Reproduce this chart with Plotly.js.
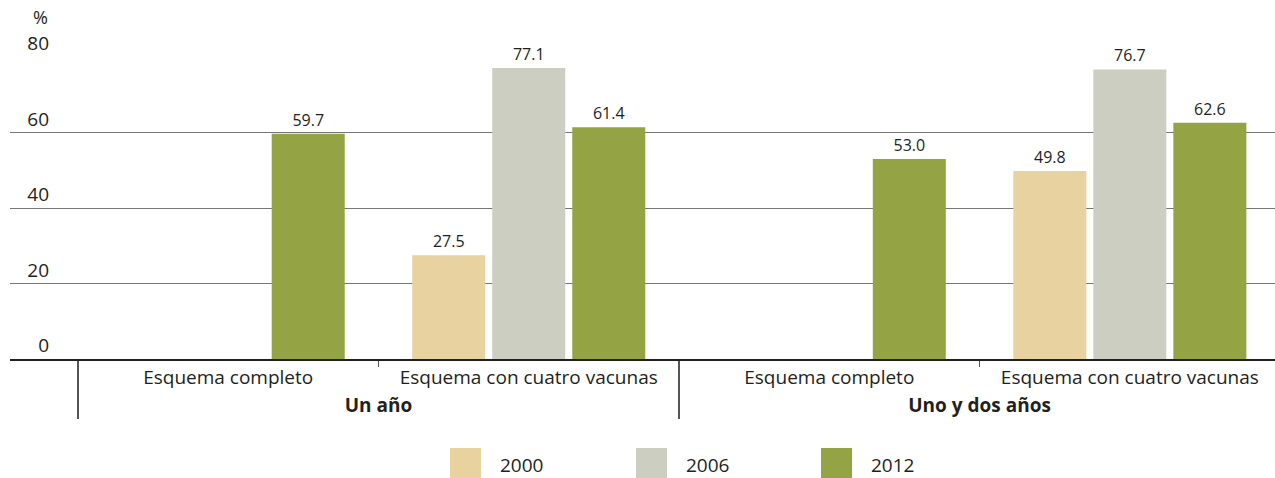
<!DOCTYPE html>
<html>
<head>
<meta charset="utf-8">
<script src="https://cdn.plot.ly/plotly-3.0.1.min.js"></script>
<style>html,body{margin:0;padding:0;background:#fff;}#chart{width:1275px;height:478px;}</style>
</head>
<body>
<div id="chart"></div>
<script>
const groups = ["<b>Un año</b>", "<b>Un año</b>", "<b>Uno y dos años</b>", "<b>Uno y dos años</b>"];
const schemes = ["Esquema completo", "Esquema con cuatro vacunas", "Esquema completo", "Esquema con cuatro vacunas"];
const years = ["2000", "2006", "2012"];
const v2000 = [null, 27.5, null, 49.8];
const v2006 = [null, 77.1, null, 76.7];
const v2012 = [59.7, 61.4, 53.0, 62.6];
const colors = ["#e8d29f", "#cccec1", "#94a444"];
const yTicks = [0, 20, 40, 60, 80];

const FONT = "Open Sans, Noto Sans, sans-serif";
const TXT = "#231f20";
const series = [v2000, v2006, v2012];
const traces = series.map((vals, i) => ({
  type: "bar",
  name: years[i],
  x: [groups, schemes],
  y: vals,
  marker: {color: colors[i]},
  text: vals.map(v => v === null ? "" : v.toFixed(1)),
  textposition: "outside",
  cliponaxis: false,
  textfont: {family: FONT, size: 16, color: TXT},
  hoverinfo: "none",
  showlegend: false
}));

// legend built from shapes + annotations
const legX = [450, 636, 821];
const shapes = [];
const annotations = [{
  xref: "paper", yref: "paper", x: 0, y: 1, xshift: 30, yshift: 40,
  text: "%", showarrow: false, font: {family: FONT, size: 18, color: TXT}, xanchor: "center", yanchor: "middle"
}];
years.forEach((yr, i) => {
  shapes.push({type: "rect", xref: "paper", yref: "paper",
    x0: (legX[i] - 10) / 1265, x1: (legX[i] + 21) / 1265,
    y0: -(478 - 359) / 302, y1: -(448 - 359) / 302,
    fillcolor: colors[i], line: {width: 0}});
  annotations.push({xref: "paper", yref: "paper", x: (legX[i] + 48 - 10) / 1265, y: -(465 - 359) / 302,
    text: yr, showarrow: false, xanchor: "left", yanchor: "middle",
    font: {family: FONT, size: 19, color: TXT}});
});

const layout = {
  width: 1275, height: 478,
  margin: {l: 10, r: 0, t: 57, b: 119},
  paper_bgcolor: "#fff", plot_bgcolor: "#fff",
  barmode: "group", bargap: 0.2013, bargroupgap: 0.0875,
  font: {family: FONT, color: TXT, size: 19},
  xaxis: {
    type: "multicategory",
    range: [-0.726, 3.483],
    showline: true, linecolor: "#231f20", linewidth: 2,
    ticks: "outside", ticklen: 6, tickcolor: "#555", tickwidth: 1,
    showdividers: true, dividercolor: "#555", dividerwidth: 1.5,
    tickfont: {family: FONT, size: 19, color: TXT},
    showgrid: false, zeroline: false
  },
  yaxis: {
    range: [0, 80], tickvals: yTicks, ticktext: yTicks.map(String),
    showgrid: true, gridcolor: "#777", gridwidth: 1, zeroline: false,
    showline: false, ticks: "",
    ticklabelposition: "outside top", ticklabelstandoff: -40,
    tickfont: {family: FONT, size: 19, color: TXT}
  },
  shapes: shapes,
  annotations: annotations,
  showlegend: false
};

Plotly.newPlot("chart", traces, layout, {displayModeBar: false, staticPlot: true});
</script>
</body>
</html>
